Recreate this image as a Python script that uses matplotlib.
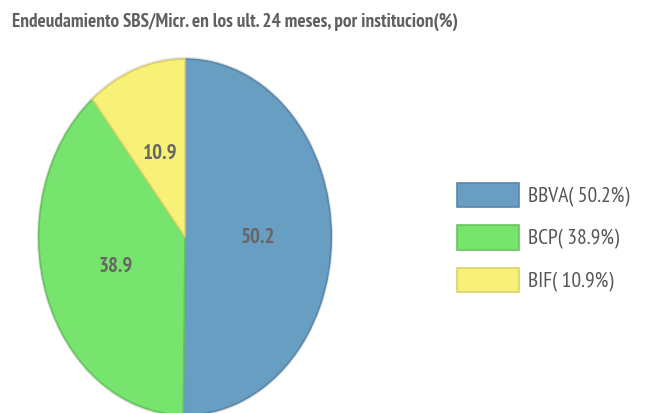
import matplotlib.pyplot as plt

labels = ['BBVA', 'BCP', 'BIF']
values = [50.2, 38.9, 10.9]
colors = ['#679ec1', '#77e46e', '#f7f277']
edges = ['#5888ab', '#66c55e', '#ddd06a']

plt.rcParams['font.family'] = ['PT Sans Narrow', 'DejaVu Sans']

fig = plt.figure(figsize=(6.64, 4.13), dpi=100)
ax = fig.add_axes([37 / 664, -4 / 413, 296 / 664, 360 / 413])

# faint grey rim behind the pie
ax.pie([1], radius=1.012, colors=['#e2e2e2'], startangle=90)
wedges, texts = ax.pie(values, colors=colors, startangle=90, counterclock=False,
                       labels=[f'{v:.1f}' for v in values], labeldistance=0.5,
                       wedgeprops=dict(linewidth=1.2),
                       textprops=dict(fontsize=15, fontweight='bold', color='#666666',
                                      ha='center', va='center'))
for w, e in zip(wedges, edges):
    w.set_edgecolor(e)
ax.set_aspect('auto')
ax.set_xlim(-1.012, 1.012)
ax.set_ylim(-1.012, 1.012)
ax.axis('off')

fig.text(12 / 664, 1 - 22 / 413, 'Endeudamiento SBS/Micr. en los ult. 24 meses, por institucion(%)',
         fontsize=13.8, fontweight='bold', color='#606060', va='center', ha='left')

leg = fig.legend(wedges, [f'{l}( {v}%)' for l, v in zip(labels, values)],
                 loc='upper left', bbox_to_anchor=(457 / 664, 1 - 183 / 413),
                 frameon=False, fontsize=15.5, labelcolor='#555555',
                 borderpad=0, borderaxespad=0,
                 handlelength=2.9, handleheight=1.35, labelspacing=0.85, handletextpad=0.4)

plt.savefig('out.png', dpi=100)
